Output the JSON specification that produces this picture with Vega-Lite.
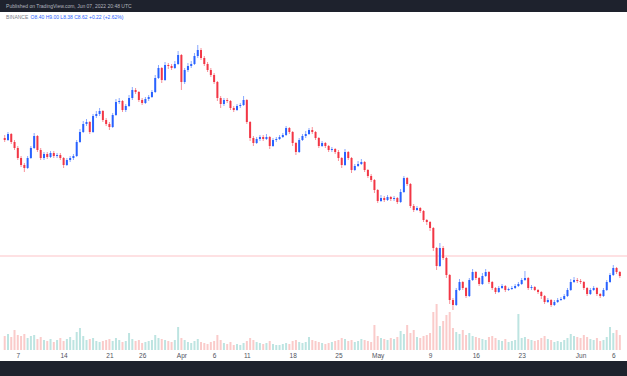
{
"$schema": "https://vega.github.io/schema/vega-lite/v6.json",
"width": 627, "height": 350, "autosize": "none", "padding": {"left": 0, "right": 0, "top": 0, "bottom": 26},
"background": "white",
"config": {"view": {"stroke": null}},
"datasets": {"candles": [
{"t":"2022-03-05T00:00:00Z","o":13.10,"h":13.25,"l":12.90,"c":13.00,"v":1.4},
{"t":"2022-03-05T12:00:00Z","o":13.00,"h":13.40,"l":12.95,"c":13.30,"v":1.6},
{"t":"2022-03-06T00:00:00Z","o":13.30,"h":13.35,"l":12.80,"c":12.90,"v":1.3},
{"t":"2022-03-06T12:00:00Z","o":12.90,"h":13.00,"l":12.50,"c":12.60,"v":2.0},
{"t":"2022-03-07T00:00:00Z","o":12.60,"h":12.70,"l":12.00,"c":12.10,"v":1.5},
{"t":"2022-03-07T12:00:00Z","o":12.10,"h":12.20,"l":11.65,"c":11.75,"v":1.4},
{"t":"2022-03-08T00:00:00Z","o":11.75,"h":11.85,"l":11.40,"c":11.60,"v":1.6},
{"t":"2022-03-08T12:00:00Z","o":11.60,"h":12.20,"l":11.55,"c":12.10,"v":1.2},
{"t":"2022-03-09T00:00:00Z","o":12.10,"h":12.70,"l":12.05,"c":12.60,"v":1.4},
{"t":"2022-03-09T12:00:00Z","o":12.60,"h":13.35,"l":12.55,"c":13.20,"v":1.5},
{"t":"2022-03-10T00:00:00Z","o":13.20,"h":13.25,"l":12.40,"c":12.50,"v":1.1},
{"t":"2022-03-10T12:00:00Z","o":12.50,"h":12.60,"l":12.00,"c":12.10,"v":1.3},
{"t":"2022-03-11T00:00:00Z","o":12.10,"h":12.40,"l":12.00,"c":12.30,"v":1.0},
{"t":"2022-03-11T12:00:00Z","o":12.30,"h":12.40,"l":12.05,"c":12.15,"v":0.9},
{"t":"2022-03-12T00:00:00Z","o":12.15,"h":12.45,"l":12.10,"c":12.35,"v":1.1},
{"t":"2022-03-12T12:00:00Z","o":12.35,"h":12.45,"l":12.10,"c":12.20,"v":0.8},
{"t":"2022-03-13T00:00:00Z","o":12.20,"h":12.35,"l":12.10,"c":12.25,"v":1.0},
{"t":"2022-03-13T12:00:00Z","o":12.25,"h":12.35,"l":12.00,"c":12.10,"v":1.2},
{"t":"2022-03-14T00:00:00Z","o":12.10,"h":12.15,"l":11.60,"c":11.75,"v":0.9},
{"t":"2022-03-14T12:00:00Z","o":11.75,"h":12.10,"l":11.70,"c":12.00,"v":1.1},
{"t":"2022-03-15T00:00:00Z","o":12.00,"h":12.20,"l":11.90,"c":12.10,"v":1.3},
{"t":"2022-03-15T12:00:00Z","o":12.10,"h":12.30,"l":12.00,"c":12.20,"v":1.0},
{"t":"2022-03-16T00:00:00Z","o":12.20,"h":13.00,"l":12.15,"c":12.90,"v":1.8},
{"t":"2022-03-16T12:00:00Z","o":12.90,"h":13.55,"l":12.85,"c":13.40,"v":2.2},
{"t":"2022-03-17T00:00:00Z","o":13.40,"h":13.95,"l":13.35,"c":13.80,"v":1.4},
{"t":"2022-03-17T12:00:00Z","o":13.80,"h":14.05,"l":13.70,"c":13.90,"v":1.0},
{"t":"2022-03-18T00:00:00Z","o":13.90,"h":13.95,"l":13.30,"c":13.40,"v":1.1},
{"t":"2022-03-18T12:00:00Z","o":13.40,"h":14.30,"l":13.35,"c":14.20,"v":1.2},
{"t":"2022-03-19T00:00:00Z","o":14.20,"h":14.45,"l":14.10,"c":14.30,"v":0.9},
{"t":"2022-03-19T12:00:00Z","o":14.30,"h":14.60,"l":14.20,"c":14.45,"v":0.8},
{"t":"2022-03-20T00:00:00Z","o":14.45,"h":14.50,"l":13.90,"c":14.00,"v":0.9},
{"t":"2022-03-20T12:00:00Z","o":14.00,"h":14.10,"l":13.70,"c":13.80,"v":1.0},
{"t":"2022-03-21T00:00:00Z","o":13.80,"h":13.90,"l":13.50,"c":13.65,"v":1.1},
{"t":"2022-03-21T12:00:00Z","o":13.65,"h":14.35,"l":13.60,"c":14.25,"v":0.9},
{"t":"2022-03-22T00:00:00Z","o":14.25,"h":15.05,"l":14.20,"c":14.90,"v":1.2},
{"t":"2022-03-22T12:00:00Z","o":14.90,"h":15.10,"l":14.80,"c":14.95,"v":1.0},
{"t":"2022-03-23T00:00:00Z","o":14.95,"h":15.00,"l":14.40,"c":14.50,"v":0.8},
{"t":"2022-03-23T12:00:00Z","o":14.50,"h":14.80,"l":14.40,"c":14.70,"v":0.9},
{"t":"2022-03-24T00:00:00Z","o":14.70,"h":15.25,"l":14.65,"c":15.10,"v":1.7},
{"t":"2022-03-24T12:00:00Z","o":15.10,"h":15.65,"l":15.00,"c":15.50,"v":1.1},
{"t":"2022-03-25T00:00:00Z","o":15.50,"h":15.60,"l":15.30,"c":15.40,"v":0.9},
{"t":"2022-03-25T12:00:00Z","o":15.40,"h":15.45,"l":14.90,"c":15.00,"v":1.0},
{"t":"2022-03-26T00:00:00Z","o":15.00,"h":15.10,"l":14.75,"c":14.85,"v":0.7},
{"t":"2022-03-26T12:00:00Z","o":14.85,"h":15.15,"l":14.80,"c":15.05,"v":0.8},
{"t":"2022-03-27T00:00:00Z","o":15.05,"h":15.25,"l":14.95,"c":15.15,"v":0.9},
{"t":"2022-03-27T12:00:00Z","o":15.15,"h":15.50,"l":15.10,"c":15.40,"v":1.0},
{"t":"2022-03-28T00:00:00Z","o":15.40,"h":16.25,"l":15.35,"c":16.10,"v":1.5},
{"t":"2022-03-28T12:00:00Z","o":16.10,"h":16.75,"l":16.05,"c":16.60,"v":1.2},
{"t":"2022-03-29T00:00:00Z","o":16.60,"h":16.65,"l":15.85,"c":16.00,"v":1.1},
{"t":"2022-03-29T12:00:00Z","o":16.00,"h":16.90,"l":15.95,"c":16.75,"v":1.0},
{"t":"2022-03-30T00:00:00Z","o":16.75,"h":16.85,"l":16.55,"c":16.70,"v":0.9},
{"t":"2022-03-30T12:00:00Z","o":16.70,"h":16.80,"l":16.50,"c":16.60,"v":0.8},
{"t":"2022-03-31T00:00:00Z","o":16.60,"h":16.95,"l":16.55,"c":16.80,"v":1.0},
{"t":"2022-03-31T12:00:00Z","o":16.80,"h":17.45,"l":16.75,"c":17.25,"v":2.3},
{"t":"2022-04-01T00:00:00Z","o":17.25,"h":17.30,"l":15.50,"c":15.90,"v":1.2},
{"t":"2022-04-01T12:00:00Z","o":15.90,"h":16.60,"l":15.80,"c":16.50,"v":1.0},
{"t":"2022-04-02T00:00:00Z","o":16.50,"h":16.85,"l":16.40,"c":16.70,"v":0.8},
{"t":"2022-04-02T12:00:00Z","o":16.70,"h":16.95,"l":16.60,"c":16.80,"v":0.7},
{"t":"2022-04-03T00:00:00Z","o":16.80,"h":17.35,"l":16.75,"c":17.20,"v":0.9},
{"t":"2022-04-03T12:00:00Z","o":17.20,"h":17.75,"l":17.10,"c":17.50,"v":1.1},
{"t":"2022-04-04T00:00:00Z","o":17.50,"h":17.60,"l":17.00,"c":17.10,"v":0.8},
{"t":"2022-04-04T12:00:00Z","o":17.10,"h":17.20,"l":16.70,"c":16.80,"v":0.7},
{"t":"2022-04-05T00:00:00Z","o":16.80,"h":16.90,"l":16.40,"c":16.50,"v":0.6},
{"t":"2022-04-05T12:00:00Z","o":16.50,"h":16.60,"l":16.15,"c":16.25,"v":0.8},
{"t":"2022-04-06T00:00:00Z","o":16.25,"h":16.35,"l":15.80,"c":15.90,"v":0.9},
{"t":"2022-04-06T12:00:00Z","o":15.90,"h":15.95,"l":14.95,"c":15.10,"v":1.5},
{"t":"2022-04-07T00:00:00Z","o":15.10,"h":15.20,"l":14.60,"c":14.80,"v":1.0},
{"t":"2022-04-07T12:00:00Z","o":14.80,"h":15.10,"l":14.70,"c":15.00,"v":0.7},
{"t":"2022-04-08T00:00:00Z","o":15.00,"h":15.10,"l":14.85,"c":14.95,"v":0.6},
{"t":"2022-04-08T12:00:00Z","o":14.95,"h":15.00,"l":14.50,"c":14.60,"v":0.8},
{"t":"2022-04-09T00:00:00Z","o":14.60,"h":14.70,"l":14.40,"c":14.50,"v":0.5},
{"t":"2022-04-09T12:00:00Z","o":14.50,"h":14.80,"l":14.45,"c":14.70,"v":0.6},
{"t":"2022-04-10T00:00:00Z","o":14.70,"h":14.85,"l":14.60,"c":14.75,"v":0.5},
{"t":"2022-04-10T12:00:00Z","o":14.75,"h":15.20,"l":14.70,"c":15.00,"v":0.7},
{"t":"2022-04-11T00:00:00Z","o":15.00,"h":15.05,"l":13.80,"c":13.90,"v":0.9},
{"t":"2022-04-11T12:00:00Z","o":13.90,"h":13.95,"l":12.95,"c":13.10,"v":1.2},
{"t":"2022-04-12T00:00:00Z","o":13.10,"h":13.20,"l":12.70,"c":12.85,"v":1.0},
{"t":"2022-04-12T12:00:00Z","o":12.85,"h":13.15,"l":12.80,"c":13.05,"v":0.8},
{"t":"2022-04-13T00:00:00Z","o":13.05,"h":13.25,"l":12.95,"c":13.15,"v":0.7},
{"t":"2022-04-13T12:00:00Z","o":13.15,"h":13.25,"l":12.95,"c":13.05,"v":0.6},
{"t":"2022-04-14T00:00:00Z","o":13.05,"h":13.30,"l":13.00,"c":13.15,"v":0.7},
{"t":"2022-04-14T12:00:00Z","o":13.15,"h":13.20,"l":12.55,"c":12.70,"v":0.9},
{"t":"2022-04-15T00:00:00Z","o":12.70,"h":13.10,"l":12.65,"c":13.00,"v":0.6},
{"t":"2022-04-15T12:00:00Z","o":13.00,"h":13.15,"l":12.90,"c":13.05,"v":0.5},
{"t":"2022-04-16T00:00:00Z","o":13.05,"h":13.25,"l":13.00,"c":13.15,"v":0.5},
{"t":"2022-04-16T12:00:00Z","o":13.15,"h":13.35,"l":13.10,"c":13.25,"v":0.6},
{"t":"2022-04-17T00:00:00Z","o":13.25,"h":13.70,"l":13.20,"c":13.60,"v":0.7},
{"t":"2022-04-17T12:00:00Z","o":13.60,"h":13.65,"l":13.30,"c":13.40,"v":0.6},
{"t":"2022-04-18T00:00:00Z","o":13.40,"h":13.45,"l":12.70,"c":12.85,"v":0.9},
{"t":"2022-04-18T12:00:00Z","o":12.85,"h":12.90,"l":12.25,"c":12.40,"v":1.0},
{"t":"2022-04-19T00:00:00Z","o":12.40,"h":13.10,"l":12.35,"c":13.00,"v":0.8},
{"t":"2022-04-19T12:00:00Z","o":13.00,"h":13.30,"l":12.95,"c":13.20,"v":0.7},
{"t":"2022-04-20T00:00:00Z","o":13.20,"h":13.45,"l":13.10,"c":13.30,"v":0.8},
{"t":"2022-04-20T12:00:00Z","o":13.30,"h":13.60,"l":13.25,"c":13.50,"v":1.3},
{"t":"2022-04-21T00:00:00Z","o":13.50,"h":13.65,"l":13.30,"c":13.40,"v":1.0},
{"t":"2022-04-21T12:00:00Z","o":13.40,"h":13.45,"l":13.00,"c":13.10,"v":0.9},
{"t":"2022-04-22T00:00:00Z","o":13.10,"h":13.15,"l":12.60,"c":12.70,"v":0.8},
{"t":"2022-04-22T12:00:00Z","o":12.70,"h":12.95,"l":12.65,"c":12.85,"v":0.7},
{"t":"2022-04-23T00:00:00Z","o":12.85,"h":12.90,"l":12.60,"c":12.70,"v":0.6},
{"t":"2022-04-23T12:00:00Z","o":12.70,"h":12.75,"l":12.40,"c":12.50,"v":0.7},
{"t":"2022-04-24T00:00:00Z","o":12.50,"h":12.65,"l":12.40,"c":12.55,"v":0.8},
{"t":"2022-04-24T12:00:00Z","o":12.55,"h":12.60,"l":12.30,"c":12.40,"v":0.9},
{"t":"2022-04-25T00:00:00Z","o":12.40,"h":12.50,"l":11.95,"c":12.10,"v":1.0},
{"t":"2022-04-25T12:00:00Z","o":12.10,"h":12.15,"l":11.60,"c":11.75,"v":1.2},
{"t":"2022-04-26T00:00:00Z","o":11.75,"h":12.55,"l":11.70,"c":12.40,"v":1.1},
{"t":"2022-04-26T12:00:00Z","o":12.40,"h":12.45,"l":12.00,"c":12.10,"v":0.9},
{"t":"2022-04-27T00:00:00Z","o":12.10,"h":12.15,"l":11.35,"c":11.50,"v":1.0},
{"t":"2022-04-27T12:00:00Z","o":11.50,"h":11.80,"l":11.45,"c":11.70,"v":0.8},
{"t":"2022-04-28T00:00:00Z","o":11.70,"h":11.95,"l":11.65,"c":11.80,"v":0.9},
{"t":"2022-04-28T12:00:00Z","o":11.80,"h":12.05,"l":11.75,"c":11.90,"v":1.1},
{"t":"2022-04-29T00:00:00Z","o":11.90,"h":11.95,"l":11.40,"c":11.50,"v":1.0},
{"t":"2022-04-29T12:00:00Z","o":11.50,"h":11.55,"l":11.10,"c":11.20,"v":0.9},
{"t":"2022-04-30T00:00:00Z","o":11.20,"h":11.30,"l":10.90,"c":11.00,"v":0.8},
{"t":"2022-04-30T12:00:00Z","o":11.00,"h":11.05,"l":10.35,"c":10.50,"v":2.5},
{"t":"2022-05-01T00:00:00Z","o":10.50,"h":10.55,"l":9.85,"c":9.95,"v":1.4},
{"t":"2022-05-01T12:00:00Z","o":9.95,"h":10.25,"l":9.90,"c":10.10,"v":1.2},
{"t":"2022-05-02T00:00:00Z","o":10.10,"h":10.20,"l":9.90,"c":10.00,"v":1.1},
{"t":"2022-05-02T12:00:00Z","o":10.00,"h":10.25,"l":9.95,"c":10.15,"v":1.0},
{"t":"2022-05-03T00:00:00Z","o":10.15,"h":10.20,"l":9.95,"c":10.05,"v":1.2},
{"t":"2022-05-03T12:00:00Z","o":10.05,"h":10.20,"l":9.95,"c":10.10,"v":1.1},
{"t":"2022-05-04T00:00:00Z","o":10.10,"h":10.15,"l":9.80,"c":9.90,"v":1.3},
{"t":"2022-05-04T12:00:00Z","o":9.90,"h":10.55,"l":9.85,"c":10.40,"v":1.9},
{"t":"2022-05-05T00:00:00Z","o":10.40,"h":11.20,"l":10.35,"c":11.10,"v":1.6},
{"t":"2022-05-05T12:00:00Z","o":11.10,"h":11.15,"l":10.70,"c":10.80,"v":2.5},
{"t":"2022-05-06T00:00:00Z","o":10.80,"h":10.85,"l":9.60,"c":9.70,"v":1.7},
{"t":"2022-05-06T12:00:00Z","o":9.70,"h":9.80,"l":9.40,"c":9.50,"v":2.0},
{"t":"2022-05-07T00:00:00Z","o":9.50,"h":9.70,"l":9.45,"c":9.60,"v":1.3},
{"t":"2022-05-07T12:00:00Z","o":9.60,"h":9.65,"l":9.35,"c":9.45,"v":1.2},
{"t":"2022-05-08T00:00:00Z","o":9.45,"h":9.50,"l":8.90,"c":9.00,"v":1.4},
{"t":"2022-05-08T12:00:00Z","o":9.00,"h":9.05,"l":8.75,"c":8.90,"v":1.5},
{"t":"2022-05-09T00:00:00Z","o":8.90,"h":8.95,"l":8.45,"c":8.60,"v":1.7},
{"t":"2022-05-09T12:00:00Z","o":8.60,"h":8.65,"l":7.45,"c":7.60,"v":3.8},
{"t":"2022-05-10T00:00:00Z","o":7.60,"h":7.65,"l":6.50,"c":6.70,"v":4.6},
{"t":"2022-05-10T12:00:00Z","o":6.70,"h":7.85,"l":6.65,"c":7.60,"v":2.4},
{"t":"2022-05-11T00:00:00Z","o":7.60,"h":7.70,"l":7.00,"c":7.10,"v":2.9},
{"t":"2022-05-11T12:00:00Z","o":7.10,"h":7.15,"l":6.10,"c":6.25,"v":3.5},
{"t":"2022-05-12T00:00:00Z","o":6.25,"h":6.30,"l":4.80,"c":5.00,"v":3.8},
{"t":"2022-05-12T12:00:00Z","o":5.00,"h":5.10,"l":4.50,"c":4.75,"v":2.2},
{"t":"2022-05-13T00:00:00Z","o":4.75,"h":5.60,"l":4.70,"c":5.50,"v":1.8},
{"t":"2022-05-13T12:00:00Z","o":5.50,"h":6.05,"l":5.45,"c":5.90,"v":1.6},
{"t":"2022-05-14T00:00:00Z","o":5.90,"h":5.95,"l":5.50,"c":5.60,"v":2.0},
{"t":"2022-05-14T12:00:00Z","o":5.60,"h":5.65,"l":5.10,"c":5.20,"v":1.5},
{"t":"2022-05-15T00:00:00Z","o":5.20,"h":6.10,"l":5.15,"c":6.00,"v":1.7},
{"t":"2022-05-15T12:00:00Z","o":6.00,"h":6.55,"l":5.95,"c":6.40,"v":1.4},
{"t":"2022-05-16T00:00:00Z","o":6.40,"h":6.45,"l":6.00,"c":6.10,"v":1.3},
{"t":"2022-05-16T12:00:00Z","o":6.10,"h":6.15,"l":5.70,"c":5.80,"v":1.2},
{"t":"2022-05-17T00:00:00Z","o":5.80,"h":6.35,"l":5.75,"c":6.20,"v":1.1},
{"t":"2022-05-17T12:00:00Z","o":6.20,"h":6.55,"l":6.15,"c":6.40,"v":1.0},
{"t":"2022-05-18T00:00:00Z","o":6.40,"h":6.45,"l":5.80,"c":5.90,"v":1.3},
{"t":"2022-05-18T12:00:00Z","o":5.90,"h":5.95,"l":5.50,"c":5.60,"v":1.4},
{"t":"2022-05-19T00:00:00Z","o":5.60,"h":5.65,"l":5.30,"c":5.40,"v":1.2},
{"t":"2022-05-19T12:00:00Z","o":5.40,"h":5.70,"l":5.35,"c":5.60,"v":1.0},
{"t":"2022-05-20T00:00:00Z","o":5.60,"h":5.80,"l":5.55,"c":5.70,"v":0.9},
{"t":"2022-05-20T12:00:00Z","o":5.70,"h":5.75,"l":5.40,"c":5.50,"v":1.1},
{"t":"2022-05-21T00:00:00Z","o":5.50,"h":5.62,"l":5.45,"c":5.55,"v":0.8},
{"t":"2022-05-21T12:00:00Z","o":5.55,"h":5.70,"l":5.50,"c":5.60,"v":0.9},
{"t":"2022-05-22T00:00:00Z","o":5.60,"h":5.80,"l":5.55,"c":5.70,"v":1.0},
{"t":"2022-05-22T12:00:00Z","o":5.70,"h":5.90,"l":5.65,"c":5.80,"v":3.6},
{"t":"2022-05-23T00:00:00Z","o":5.80,"h":6.10,"l":5.75,"c":6.00,"v":1.2},
{"t":"2022-05-23T12:00:00Z","o":6.00,"h":6.45,"l":5.95,"c":6.10,"v":1.3},
{"t":"2022-05-24T00:00:00Z","o":6.10,"h":6.15,"l":5.50,"c":5.60,"v":1.1},
{"t":"2022-05-24T12:00:00Z","o":5.60,"h":5.75,"l":5.50,"c":5.65,"v":1.0},
{"t":"2022-05-25T00:00:00Z","o":5.65,"h":5.70,"l":5.45,"c":5.50,"v":0.9},
{"t":"2022-05-25T12:00:00Z","o":5.50,"h":5.55,"l":5.30,"c":5.40,"v":1.0},
{"t":"2022-05-26T00:00:00Z","o":5.40,"h":5.45,"l":5.05,"c":5.20,"v":1.2},
{"t":"2022-05-26T12:00:00Z","o":5.20,"h":5.25,"l":4.80,"c":4.90,"v":1.4},
{"t":"2022-05-27T00:00:00Z","o":4.90,"h":5.10,"l":4.85,"c":5.00,"v":1.1},
{"t":"2022-05-27T12:00:00Z","o":5.00,"h":5.05,"l":4.65,"c":4.75,"v":1.0},
{"t":"2022-05-28T00:00:00Z","o":4.75,"h":5.00,"l":4.70,"c":4.90,"v":0.8},
{"t":"2022-05-28T12:00:00Z","o":4.90,"h":5.10,"l":4.85,"c":5.00,"v":0.9},
{"t":"2022-05-29T00:00:00Z","o":5.00,"h":5.15,"l":4.95,"c":5.05,"v":0.8},
{"t":"2022-05-29T12:00:00Z","o":5.05,"h":5.30,"l":5.00,"c":5.20,"v":1.0},
{"t":"2022-05-30T00:00:00Z","o":5.20,"h":5.60,"l":5.15,"c":5.50,"v":1.2},
{"t":"2022-05-30T12:00:00Z","o":5.50,"h":6.05,"l":5.45,"c":5.90,"v":1.6},
{"t":"2022-05-31T00:00:00Z","o":5.90,"h":6.15,"l":5.85,"c":6.00,"v":1.4},
{"t":"2022-05-31T12:00:00Z","o":6.00,"h":6.10,"l":5.85,"c":5.95,"v":1.3},
{"t":"2022-06-01T00:00:00Z","o":5.95,"h":6.05,"l":5.80,"c":5.90,"v":1.2},
{"t":"2022-06-01T12:00:00Z","o":5.90,"h":5.95,"l":5.50,"c":5.60,"v":1.5},
{"t":"2022-06-02T00:00:00Z","o":5.60,"h":5.65,"l":5.20,"c":5.30,"v":1.3},
{"t":"2022-06-02T12:00:00Z","o":5.30,"h":5.60,"l":5.25,"c":5.50,"v":1.1},
{"t":"2022-06-03T00:00:00Z","o":5.50,"h":5.70,"l":5.45,"c":5.60,"v":1.0},
{"t":"2022-06-03T12:00:00Z","o":5.60,"h":5.65,"l":5.20,"c":5.30,"v":1.2},
{"t":"2022-06-04T00:00:00Z","o":5.30,"h":5.35,"l":5.10,"c":5.20,"v":0.9},
{"t":"2022-06-04T12:00:00Z","o":5.20,"h":5.60,"l":5.15,"c":5.50,"v":1.0},
{"t":"2022-06-05T00:00:00Z","o":5.50,"h":6.00,"l":5.45,"c":5.90,"v":1.3},
{"t":"2022-06-05T12:00:00Z","o":5.90,"h":6.35,"l":5.85,"c":6.25,"v":2.3},
{"t":"2022-06-06T00:00:00Z","o":6.25,"h":6.75,"l":6.20,"c":6.60,"v":1.7},
{"t":"2022-06-06T12:00:00Z","o":6.60,"h":6.65,"l":6.30,"c":6.40,"v":2.0},
{"t":"2022-06-07T00:00:00Z","o":6.40,"h":6.45,"l":6.10,"c":6.20,"v":1.5}
]},
"resolve": {"scale": {"y": "independent"}},
"layer": [
{"data": {"values": [{"part": "header"}]},
 "mark": {"type": "rect", "color": "#1e222d"},
 "encoding": {"y": {"datum": 19.4, "type": "quantitative", "scale": {"domain": [2.5, 20], "nice": false, "zero": false}, "axis": null}, "y2": {"datum": 20}}},
{"data": {"values": [{"part": "footer"}]},
 "mark": {"type": "rect", "color": "#1e222d"},
 "encoding": {"y": {"datum": 1.95, "type": "quantitative", "scale": {"domain": [2.5, 20], "nice": false, "zero": false}, "axis": null}, "y2": {"datum": 1.2}}},
{"data": {"name": "candles"},
 "mark": {"type": "bar", "size": 2, "opacity": 0.3},
 "encoding": {
  "x": {"field": "t", "type": "temporal", "scale": {"type": "utc", "nice": false, "domain": [{"year": 2022, "month": 3, "date": 5, "hours": 1, "minutes": 3, "utc": true}, {"year": 2022, "month": 6, "date": 7, "hours": 7, "minutes": 57, "utc": true}]},
   "axis": {"values": [
     {"year": 2022, "month": 3, "date": 7, "utc": true}, {"year": 2022, "month": 3, "date": 14, "utc": true}, {"year": 2022, "month": 3, "date": 21, "utc": true}, {"year": 2022, "month": 3, "date": 26, "utc": true},
     {"year": 2022, "month": 4, "date": 1, "utc": true}, {"year": 2022, "month": 4, "date": 6, "utc": true}, {"year": 2022, "month": 4, "date": 11, "utc": true}, {"year": 2022, "month": 4, "date": 18, "utc": true}, {"year": 2022, "month": 4, "date": 25, "utc": true},
     {"year": 2022, "month": 5, "date": 1, "utc": true}, {"year": 2022, "month": 5, "date": 9, "utc": true}, {"year": 2022, "month": 5, "date": 16, "utc": true}, {"year": 2022, "month": 5, "date": 23, "utc": true},
     {"year": 2022, "month": 6, "date": 1, "utc": true}, {"year": 2022, "month": 6, "date": 6, "utc": true}],
    "labelExpr": "utcdate(datum.value) == 1 ? utcFormat(datum.value, '%b') : utcFormat(datum.value, '%-d')",
    "ticks": false, "domain": false, "grid": false, "title": null,
    "labelFontSize": 6.5, "labelFont": "Liberation Sans", "labelColor": "#50535e", "labelPadding": 2, "labelOverlap": false, "labelFlush": false}},
  "y": {"field": "v", "type": "quantitative", "scale": {"domain": [0, 35], "nice": false, "zero": false}, "axis": null},
  "y2": {"datum": 0},
  "color": {"condition": {"test": "datum.c >= datum.o", "value": "#26a69a"}, "value": "#ef5350"}}},
{"data": {"values": [{"part": "last"}]},
 "mark": {"type": "rule", "color": "#f7525f", "opacity": 0.35, "strokeWidth": 1},
 "encoding": {"y": {"datum": 7.2, "type": "quantitative", "scale": {"domain": [2.5, 20], "nice": false, "zero": false}, "axis": null}}},
{"data": {"name": "candles"},
 "mark": {"type": "rule", "strokeWidth": 1, "opacity": 0.55},
 "encoding": {
  "x": {"field": "t", "type": "temporal"},
  "y": {"field": "l", "type": "quantitative", "scale": {"domain": [2.5, 20], "nice": false, "zero": false}, "axis": null},
  "y2": {"field": "h"},
  "color": {"condition": {"test": "datum.c >= datum.o", "value": "#2962ff"}, "value": "#f23645"}}},
{"data": {"name": "candles"},
 "mark": {"type": "bar", "size": 2},
 "encoding": {
  "x": {"field": "t", "type": "temporal"},
  "y": {"field": "o", "type": "quantitative", "scale": {"domain": [2.5, 20], "nice": false, "zero": false}, "axis": null},
  "y2": {"field": "c"},
  "color": {"condition": {"test": "datum.c >= datum.o", "value": "#2962ff"}, "value": "#f23645"}}},
{"data": {"values": [{"label": "Published on TradingView.com, Jun 07, 2022 20:48 UTC"}]},
 "mark": {"type": "text", "align": "left", "baseline": "middle", "fontSize": 5, "font": "Liberation Sans", "color": "#b2b5be"},
 "encoding": {
  "x": {"datum": {"year": 2022, "month": 3, "date": 5, "hours": 5, "utc": true}, "type": "temporal"},
  "y": {"datum": 19.7, "type": "quantitative", "scale": {"domain": [2.5, 20], "nice": false, "zero": false}, "axis": null},
  "text": {"field": "label"}}},
{"data": {"values": [{"label": "BINANCE"}]},
 "mark": {"type": "text", "align": "left", "baseline": "middle", "fontSize": 5, "font": "Liberation Sans", "color": "#787b86"},
 "encoding": {
  "x": {"datum": {"year": 2022, "month": 3, "date": 5, "hours": 5, "utc": true}, "type": "temporal"},
  "y": {"datum": 19.15, "type": "quantitative", "scale": {"domain": [2.5, 20], "nice": false, "zero": false}, "axis": null},
  "text": {"field": "label"}}},
{"data": {"values": [{"label": "O8.40  H9.00  L8.38  C8.62  +0.22 (+2.62%)"}]},
 "mark": {"type": "text", "align": "left", "baseline": "middle", "fontSize": 5, "font": "Liberation Sans", "color": "#2962ff"},
 "encoding": {
  "x": {"datum": {"year": 2022, "month": 3, "date": 8, "hours": 23, "utc": true}, "type": "temporal"},
  "y": {"datum": 19.15, "type": "quantitative", "scale": {"domain": [2.5, 20], "nice": false, "zero": false}, "axis": null},
  "text": {"field": "label"}}}
]
}
